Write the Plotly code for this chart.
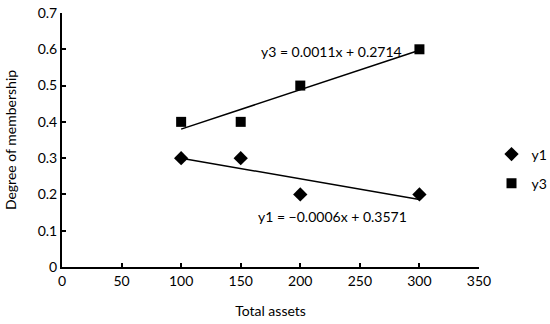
import numpy as np
import plotly.graph_objects as go

x_vals = [100, 150, 200, 300]
y1_vals = [0.3, 0.3, 0.2, 0.2]
y3_vals = [0.4, 0.4, 0.5, 0.6]
x_ticks = [0, 50, 100, 150, 200, 250, 300, 350]
y_ticks = [0, 0.1, 0.2, 0.3, 0.4, 0.5, 0.6, 0.7]
y_tick_labels = ["0", "0.1", "0.2", "0.3", "0.4", "0.5", "0.6", "0.7"]
eq_y1 = "y1 = \u22120.0006x + 0.3571"
eq_y3 = "y3 = 0.0011x + 0.2714"

font = "Lato, 'Open Sans', sans-serif"

xs = np.array(x_vals, dtype=float)
fit_x = np.array([min(x_vals), max(x_vals)], dtype=float)
p1 = np.polyfit(xs, y1_vals, 1)
p3 = np.polyfit(xs, y3_vals, 1)

fig = go.Figure()
fig.add_trace(go.Scatter(x=fit_x, y=np.polyval(p1, fit_x), mode="lines",
                         line=dict(color="black", width=1.5), showlegend=False, hoverinfo="skip"))
fig.add_trace(go.Scatter(x=fit_x, y=np.polyval(p3, fit_x), mode="lines",
                         line=dict(color="black", width=1.5), showlegend=False, hoverinfo="skip"))
fig.add_trace(go.Scatter(x=x_vals, y=y1_vals, mode="markers", name="y1", legendgroup="a",
                         marker=dict(symbol="diamond", size=11, color="black")))
fig.add_trace(go.Scatter(x=x_vals, y=y3_vals, mode="markers", name="y3", legendgroup="b",
                         marker=dict(symbol="square", size=10, color="black")))

fig.add_annotation(x=226, y=0.593, text=eq_y3, showarrow=False,
                   font=dict(family=font, size=14, color="black"))
fig.add_annotation(x=227, y=0.14, text=eq_y1, showarrow=False,
                   font=dict(family=font, size=14, color="black"))

fig.update_layout(
    width=550, height=324,
    margin=dict(l=62, r=71, t=13, b=57, autoexpand=False),
    plot_bgcolor="white", paper_bgcolor="white",
    font=dict(family=font, size=14, color="black"),
    legend=dict(x=1.03, y=0.386, xanchor="left", yanchor="middle",
                font=dict(family=font, size=14), itemwidth=30,
                traceorder="grouped", tracegroupgap=8, bgcolor="rgba(0,0,0,0)"),
    xaxis=dict(range=[0, 350], tickvals=x_ticks, showgrid=False, zeroline=False,
               showline=True, linecolor="black", linewidth=2, automargin=False,
               ticks="inside", ticklen=4, tickwidth=1.5, tickcolor="black",
               title=dict(text="Total assets", font=dict(size=14), standoff=18)),
    yaxis=dict(range=[0, 0.7], tickvals=y_ticks, ticktext=y_tick_labels, showgrid=False,
               zeroline=False, showline=True, linecolor="black", linewidth=2, automargin=False,
               ticks="inside", ticklen=4, tickwidth=1.5, tickcolor="black",
               title=dict(text="Degree of membership", font=dict(size=14), standoff=18)),
)

fig.write_html("out.html", config={"displayModeBar": False},
               post_script="document.body.style.margin='0';")
